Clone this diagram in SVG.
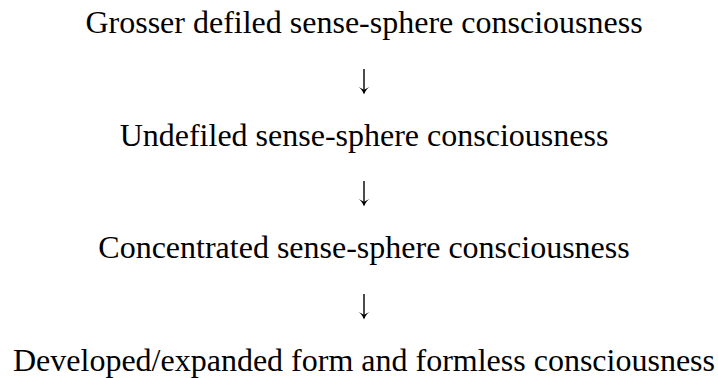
<svg xmlns="http://www.w3.org/2000/svg" width="718" height="378" viewBox="0 0 718 378">
<style>
text{font-family:"Liberation Serif","Times New Roman",serif;font-size:32px;fill:#000;text-anchor:middle}
.arr{stroke:#000;stroke-width:1.4;fill:none}
.head{fill:#000}
</style>
<defs>
<path id="ah" class="head" d="M-5.5,-7.5 Q-2,-5.5 0,0 Q2,-5.5 5.5,-7.5 Q2,-6 0,-4.5 Q-2,-6 -5.5,-7.5 Z"/>
</defs>
<rect width="718" height="378" fill="#fff"/>
<g id="n1"><text x="364" y="33">Grosser defiled sense-sphere consciousness</text></g>
<g id="n2"><text x="364" y="146">Undefiled sense-sphere consciousness</text></g>
<g id="n3"><text x="364" y="258">Concentrated sense-sphere consciousness</text></g>
<g id="n4"><text x="364" y="371">Developed/expanded form and formless consciousness</text></g>
<g id="connectors">
<line class="arr" x1="364" y1="69" x2="364" y2="93"/>
<use href="#ah" x="364" y="94.5"/>
<line class="arr" x1="364" y1="181" x2="364" y2="205"/>
<use href="#ah" x="364" y="206.5"/>
<line class="arr" x1="364" y1="294" x2="364" y2="318"/>
<use href="#ah" x="364" y="319.5"/>
</g>
</svg>
